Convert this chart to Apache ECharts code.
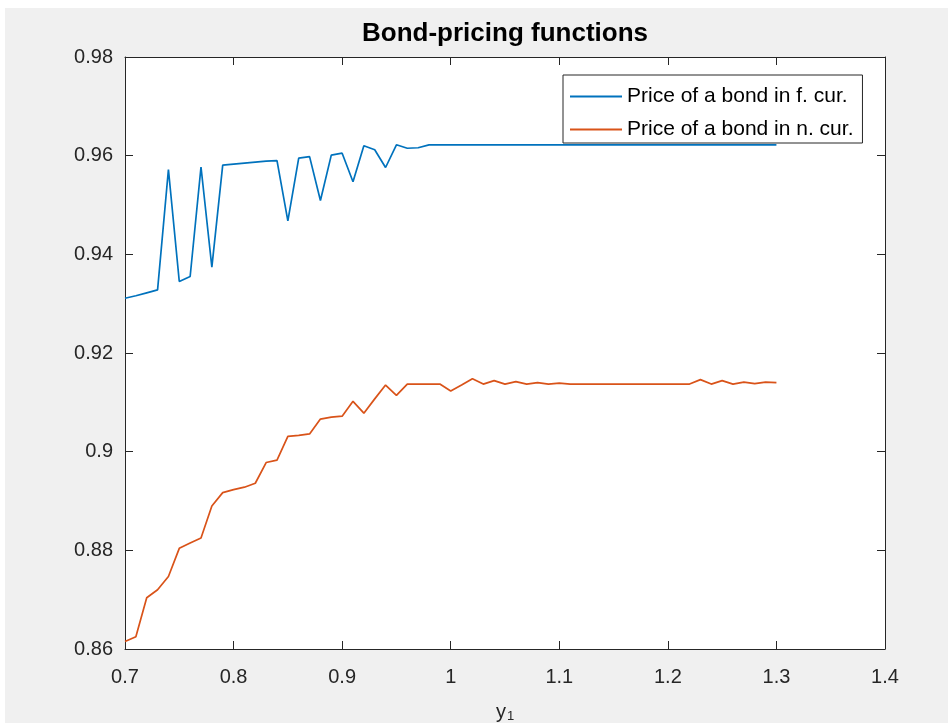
<!DOCTYPE html>
<html>
<head>
<meta charset="utf-8">
<title>Bond-pricing functions</title>
<script src="https://cdn.jsdelivr.net/npm/echarts@6/dist/echarts.min.js"></script>
<style>
  html, body { margin: 0; padding: 0; background: #f0f0f0; }
  #chart { width: 948px; height: 723px; }
</style>
</head>
<body>
<div id="chart"></div>
<script>
// Income grid y1 (0.70 .. 1.30 in steps of 0.01)
const incomeGrid = [
  0.70, 0.71, 0.72, 0.73, 0.74, 0.75, 0.76, 0.77, 0.78, 0.79,
  0.80, 0.81, 0.82, 0.83, 0.84, 0.85, 0.86, 0.87, 0.88, 0.89,
  0.90, 0.91, 0.92, 0.93, 0.94, 0.95, 0.96, 0.97, 0.98, 0.99,
  1.00, 1.01, 1.02, 1.03, 1.04, 1.05, 1.06, 1.07, 1.08, 1.09,
  1.10, 1.11, 1.12, 1.13, 1.14, 1.15, 1.16, 1.17, 1.18, 1.19,
  1.20, 1.21, 1.22, 1.23, 1.24, 1.25, 1.26, 1.27, 1.28, 1.29,
  1.30
];

// Price of a bond denominated in foreign currency
const priceForeign = [
  0.9311, 0.9316, 0.9322, 0.9328, 0.9572, 0.9345, 0.9355, 0.9577, 0.9374, 0.9581,
  0.9583, 0.9585, 0.9587, 0.9589, 0.9590, 0.9468, 0.9595, 0.9598, 0.9509, 0.9601,
  0.9605, 0.9547, 0.9620, 0.9612, 0.9576, 0.9622, 0.9615, 0.9616, 0.9622, 0.9622,
  0.9622, 0.9622, 0.9622, 0.9622, 0.9622, 0.9622, 0.9622, 0.9622, 0.9622, 0.9622,
  0.9622, 0.9622, 0.9622, 0.9622, 0.9622, 0.9622, 0.9622, 0.9622, 0.9622, 0.9622,
  0.9622, 0.9622, 0.9622, 0.9622, 0.9622, 0.9622, 0.9622, 0.9622, 0.9622, 0.9622,
  0.9622
];

// Price of a bond denominated in national currency
const priceNational = [
  0.8615, 0.8625, 0.8704, 0.8720, 0.8747, 0.8804, 0.8815, 0.8825, 0.8890, 0.8917,
  0.8923, 0.8928, 0.8936, 0.8978, 0.8983, 0.9031, 0.9033, 0.9036, 0.9066, 0.9070,
  0.9072, 0.9102, 0.9078, 0.9107, 0.9135, 0.9114, 0.9137, 0.9137, 0.9137, 0.9137,
  0.9123, 0.9135, 0.9148, 0.9137, 0.9144, 0.9137, 0.9142, 0.9137, 0.9140, 0.9137,
  0.9139, 0.9137, 0.9137, 0.9137, 0.9137, 0.9137, 0.9137, 0.9137, 0.9137, 0.9137,
  0.9137, 0.9137, 0.9137, 0.9146, 0.9137, 0.9144, 0.9137, 0.9141, 0.9138, 0.9141,
  0.9140
];

const seriesNames = ['Price of a bond in f. cur.', 'Price of a bond in n. cur.'];
const seriesColors = ['#0072BD', '#D95319'];

const FONT = "'Liberation Sans', Arial, Helvetica, sans-serif";
const INK = '#262626';

const pairs = (xs, ys) => xs.map((x, i) => [x, ys[i]]);

const chart = echarts.init(document.getElementById('chart'), null, { renderer: 'canvas' });

// Shared look of the four box edges: plain dark line with inward ticks
const boxAxis = {
  axisLine: { show: true, onZero: false, lineStyle: { color: INK, width: 1 } },
  axisTick: { show: true, inside: true, length: 8, lineStyle: { color: INK, width: 1 } },
  splitLine: { show: false }
};

chart.setOption({
  backgroundColor: '#f0f0f0',
  animation: false,
  textStyle: { fontFamily: FONT },
  title: {
    text: 'Bond-pricing functions',
    left: 505,
    textAlign: 'center',
    top: 21,
    padding: 0,
    textStyle: { fontFamily: FONT, fontSize: 26, fontWeight: 'bold', color: '#000' }
  },
  graphic: [
    { type: 'rect', left: 0, top: 0, shape: { width: 948, height: 8 }, style: { fill: '#ffffff' }, silent: true },
    { type: 'rect', left: 0, top: 0, shape: { width: 5, height: 723 }, style: { fill: '#ffffff' }, silent: true }
  ],
  grid: {
    left: 125, right: 63, top: 57, bottom: 74,
    show: true, backgroundColor: '#ffffff', borderWidth: 0,
    containLabel: false,
    outerBoundsMode: 'none'
  },
  legend: {
    orient: 'vertical',
    left: 563,
    top: 75,
    padding: [11, 9, 3, 7],
    itemGap: 12,
    itemWidth: 52,
    itemHeight: 2,
    icon: 'rect',
    backgroundColor: '#ffffff',
    borderColor: INK,
    borderWidth: 1,
    textStyle: { fontFamily: FONT, fontSize: 21, color: '#000' },
    data: seriesNames
  },
  xAxis: [
    Object.assign({
      type: 'value', position: 'bottom',
      min: 0.7, max: 1.4, interval: 0.1,
      name: '{a|y}{b|1}',
      nameLocation: 'middle',
      nameGap: 52,
      nameTextStyle: {
        rich: {
          a: { fontFamily: FONT, fontSize: 20, color: INK },
          b: { fontFamily: FONT, fontSize: 13, color: INK, padding: [9, 0, 0, 1] }
        }
      },
      axisLabel: { margin: 18, fontFamily: FONT, fontSize: 20, color: INK }
    }, boxAxis),
    Object.assign({
      type: 'value', position: 'top',
      min: 0.7, max: 1.4, interval: 0.1,
      axisLabel: { show: false }
    }, boxAxis)
  ],
  yAxis: [
    Object.assign({
      type: 'value', position: 'left',
      min: 0.86, max: 0.98, interval: 0.02,
      axisLabel: { margin: 12, fontFamily: FONT, fontSize: 20, color: INK }
    }, boxAxis),
    Object.assign({
      type: 'value', position: 'right',
      min: 0.86, max: 0.98, interval: 0.02,
      axisLabel: { show: false }
    }, boxAxis)
  ],
  series: [
    {
      name: seriesNames[0], type: 'line',
      xAxisIndex: 0, yAxisIndex: 0,
      data: pairs(incomeGrid, priceForeign),
      showSymbol: false, symbol: 'none',
      lineStyle: { color: seriesColors[0], width: 1.7 },
      itemStyle: { color: seriesColors[0] }
    },
    {
      name: seriesNames[1], type: 'line',
      xAxisIndex: 0, yAxisIndex: 0,
      data: pairs(incomeGrid, priceNational),
      showSymbol: false, symbol: 'none',
      lineStyle: { color: seriesColors[1], width: 1.7 },
      itemStyle: { color: seriesColors[1] }
    }
  ]
});
</script>
</body>
</html>
